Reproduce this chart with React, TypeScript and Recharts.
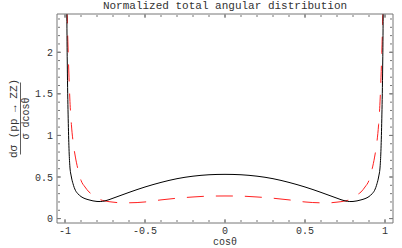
import { LineChart, Line, XAxis, YAxis, Label } from 'recharts'

// cos(theta) sample points
const cosTheta = [
  -0.99, -0.9875, -0.985, -0.98, -0.975, -0.97, -0.96, -0.95, -0.935, -0.92,
  -0.9, -0.875, -0.85, -0.825, -0.8, -0.78, -0.75, -0.7, -0.65, -0.6, -0.5,
  -0.4, -0.3, -0.2, -0.1, 0, 0.1, 0.2, 0.3, 0.4, 0.5, 0.6, 0.65, 0.7, 0.75,
  0.78, 0.8, 0.825, 0.85, 0.875, 0.9, 0.92, 0.935, 0.95, 0.96, 0.97, 0.975,
  0.98, 0.985, 0.9875, 0.99,
]

// black solid curve
const solidCurve = [
  3.0, 2.2, 1.75, 1.2, 0.84, 0.64, 0.5, 0.42, 0.34, 0.3,
  0.265, 0.24, 0.225, 0.213, 0.206, 0.205, 0.213, 0.245, 0.28, 0.315, 0.38,
  0.435, 0.48, 0.51, 0.527, 0.532, 0.527, 0.51, 0.48, 0.435, 0.38, 0.315, 0.28, 0.245, 0.213,
  0.205, 0.206, 0.213, 0.225, 0.24, 0.265, 0.3, 0.34, 0.42, 0.5, 0.64, 0.84,
  1.2, 1.75, 2.2, 3.0,
]

// red dashed curve
const dashedCurve = [
  2.9, 2.6, 2.35, 2.0, 1.7, 1.45, 1.13, 0.93, 0.74, 0.6,
  0.46, 0.38, 0.32, 0.285, 0.25, 0.228, 0.212, 0.198, 0.19, 0.19, 0.2,
  0.225, 0.245, 0.26, 0.27, 0.272, 0.27, 0.26, 0.245, 0.225, 0.2, 0.19, 0.19, 0.198, 0.212,
  0.228, 0.25, 0.285, 0.32, 0.38, 0.46, 0.6, 0.74, 0.93, 1.13, 1.45, 1.7,
  2.0, 2.35, 2.6, 2.9,
]

const xMajor = [-1, -0.5, 0, 0.5, 1]
const xMinor = [-1, -0.9, -0.8, -0.7, -0.6, -0.5, -0.4, -0.3, -0.2, -0.1, 0, 0.1, 0.2, 0.3, 0.4, 0.5, 0.6, 0.7, 0.8, 0.9, 1]
const yMajor = [0, 0.5, 1, 1.5, 2]
const yMinor = [
  0, 0.1, 0.2, 0.3, 0.4, 0.5, 0.6, 0.7, 0.8, 0.9, 1, 1.1, 1.2, 1.3, 1.4, 1.5,
  1.6, 1.7, 1.8, 1.9, 2, 2.1, 2.2, 2.3, 2.4,
]

const data = cosTheta.map((c, i) => ({ c, solid: solidCurve[i], dashed: dashedCurve[i] }))

const X_DOMAIN: [number, number] = [-1.05, 1.05]
const Y_DOMAIN: [number, number] = [-0.053, 2.46]
const MONO = '"Liberation Mono", "DejaVu Sans Mono", monospace'
const FRAME = '#777'
const blank = () => ''

function YFraction({ viewBox }: any) {
  const cy = viewBox.y + viewBox.height / 2
  return (
    <g transform={`translate(0, ${cy}) rotate(-90)`} fontFamily={MONO} fill='#333'>
      <text x={0} y={16.5} fontSize={11} textAnchor='middle'>
        dσ (pp → ZZ)
      </text>
      <line x1={-36} x2={36} y1={20.5} y2={20.5} stroke='#333' strokeWidth={0.8} />
      <text x={0} y={28.5} fontSize={10} textAnchor='middle'>
        σ dcosθ
      </text>
    </g>
  )
}

export default function App() {
  const tickText = { fontSize: 10, fill: '#333', fontFamily: MONO }
  return (
    <div style={{ position: 'fixed', left: 0, top: 0, width: 402, height: 248, background: '#fff' }}>
      <LineChart
        width={402}
        height={248}
        data={data}
        margin={{ top: 14, right: 9, bottom: 0, left: 0 }}
      >
        {/* labelled axes */}
        <XAxis
          xAxisId='lab'
          dataKey='c'
          type='number'
          domain={X_DOMAIN}
          ticks={xMajor}
          interval={0}
          allowDataOverflow
          height={25}
          tickSize={0}
          tickMargin={4}
          tickLine={false}
          axisLine={false}
          tick={tickText}
        >
          <Label
            value='cosθ'
            position='insideTop'
            offset={15}
            style={{ fontSize: 10, fill: '#333', fontFamily: MONO }}
          />
        </XAxis>
        <YAxis
          yAxisId='lab'
          type='number'
          domain={Y_DOMAIN}
          ticks={yMajor}
          interval={0}
          allowDataOverflow
          width={57}
          tickSize={0}
          tickMargin={4}
          tickLine={false}
          axisLine={false}
          tick={tickText}
        >
          <Label content={<YFraction />} />
        </YAxis>

        {/* frame ticks, pointing inward */}
        <XAxis xAxisId='bMaj' dataKey='c' type='number' domain={X_DOMAIN} allowDataOverflow ticks={xMajor} interval={0} mirror height={1}
          tickSize={4} tickFormatter={blank} axisLine={{ stroke: FRAME }} tickLine={{ stroke: FRAME }} />
        <XAxis xAxisId='bMin' dataKey='c' type='number' domain={X_DOMAIN} allowDataOverflow ticks={xMinor} interval={0} mirror height={1}
          tickSize={2} tickFormatter={blank} axisLine={false} tickLine={{ stroke: FRAME }} />
        <XAxis xAxisId='tMaj' dataKey='c' orientation='top' type='number' domain={X_DOMAIN} allowDataOverflow ticks={xMajor} interval={0} mirror height={1}
          tickSize={4} tickFormatter={blank} axisLine={{ stroke: FRAME }} tickLine={{ stroke: FRAME }}>
          <Label
            value='Normalized total angular distribution'
            position='top'
            offset={5.5}
            style={{ fontSize: 11, fill: '#333', fontFamily: MONO }}
          />
        </XAxis>
        <XAxis xAxisId='tMin' dataKey='c' orientation='top' type='number' domain={X_DOMAIN} allowDataOverflow ticks={xMinor} interval={0} mirror height={1}
          tickSize={2} tickFormatter={blank} axisLine={false} tickLine={{ stroke: FRAME }} />
        <YAxis yAxisId='lMaj' type='number' domain={Y_DOMAIN} allowDataOverflow ticks={yMajor} interval={0} mirror width={1}
          tickSize={4} tickFormatter={blank} axisLine={{ stroke: FRAME }} tickLine={{ stroke: FRAME }} />
        <YAxis yAxisId='lMin' type='number' domain={Y_DOMAIN} allowDataOverflow ticks={yMinor} interval={0} mirror width={1}
          tickSize={2} tickFormatter={blank} axisLine={false} tickLine={{ stroke: FRAME }} />
        <YAxis yAxisId='rMaj' orientation='right' type='number' domain={Y_DOMAIN} allowDataOverflow ticks={yMajor} interval={0} mirror width={1}
          tickSize={4} tickFormatter={blank} axisLine={{ stroke: FRAME }} tickLine={{ stroke: FRAME }} />
        <YAxis yAxisId='rMin' orientation='right' type='number' domain={Y_DOMAIN} allowDataOverflow ticks={yMinor} interval={0} mirror width={1}
          tickSize={2} tickFormatter={blank} axisLine={false} tickLine={{ stroke: FRAME }} />

        <Line
          xAxisId='lab'
          yAxisId='lab'
          type='monotone'
          dataKey='dashed'
          stroke='#ff2020'
          strokeWidth={1}
          strokeDasharray='17 12'
          dot={false}
          activeDot={false}
          isAnimationActive={false}
        />
        <Line
          xAxisId='lab'
          yAxisId='lab'
          type='monotone'
          dataKey='solid'
          stroke='#000'
          strokeWidth={1}
          dot={false}
          activeDot={false}
          isAnimationActive={false}
        />
      </LineChart>
    </div>
  )
}
